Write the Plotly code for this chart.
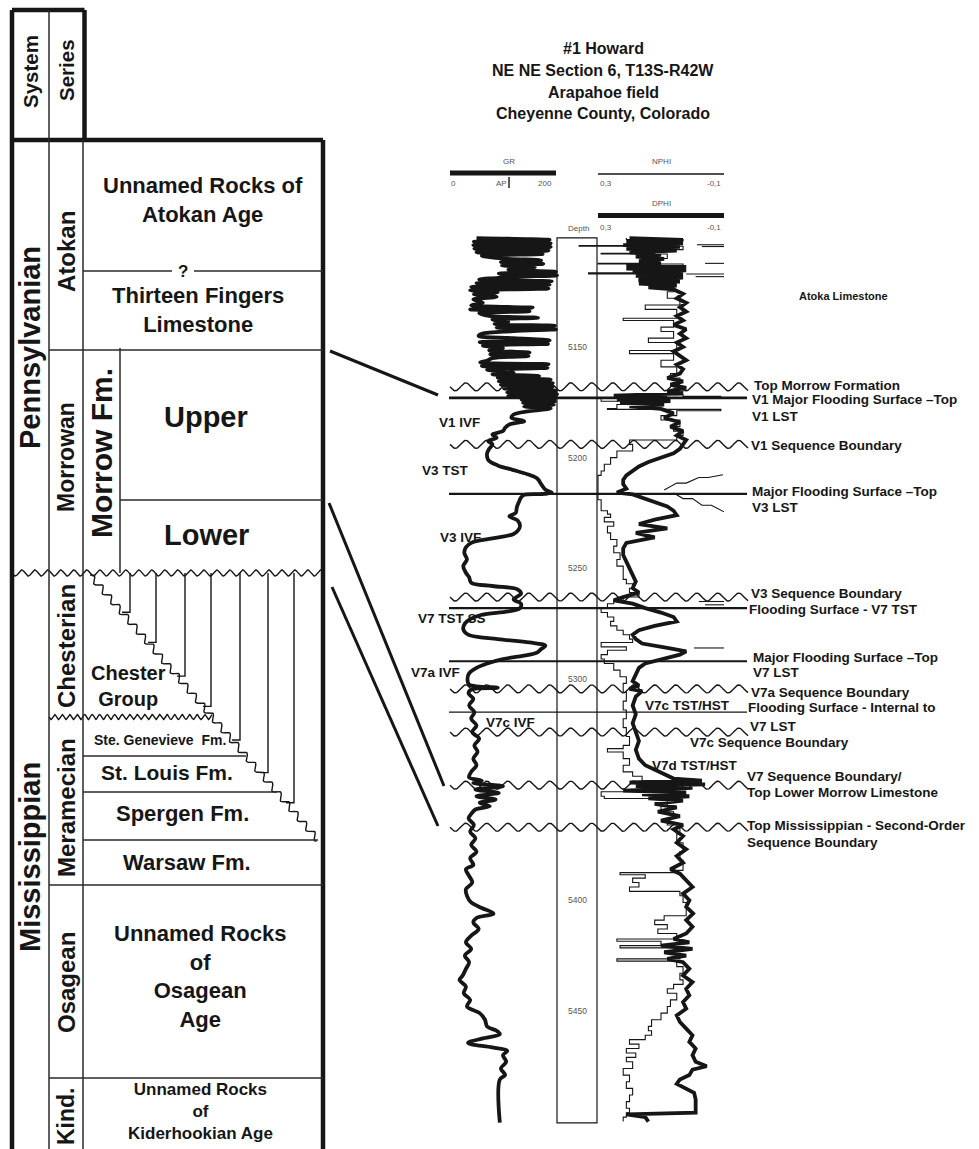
import numpy as np
import plotly.graph_objects as go

W, H = 979, 1149
FONT = "Liberation Sans, Arial, sans-serif"
INK = "#161616"
GREY = "#555555"

# ---------------- well log data: #1 Howard ----------------
gr_depth = [5100.8, 5101.6, 5102.4, 5103.2, 5104.0, 5104.8, 5105.6, 5106.4, 5107.2, 5108.0, 5108.8,
            5110.0, 5110.8, 5111.6, 5112.4, 5113.2, 5114.0, 5115.0, 5116.0, 5116.8, 5117.6, 5118.4,
            5119.5, 5120.3, 5121.1, 5121.9, 5122.8, 5123.6, 5124.4, 5125.3, 5126.2, 5127.3, 5128.5,
            5130.0, 5131.2, 5132.2, 5133.0, 5133.8, 5134.8, 5136.0, 5136.8, 5137.6, 5138.6, 5139.6,
            5140.4, 5141.2, 5142.0, 5142.8, 5144.0, 5145.0, 5146.0, 5147.0, 5147.8, 5148.6, 5149.4,
            5150.5, 5151.5, 5152.5, 5153.3, 5154.1, 5155.0, 5156.2, 5157.0, 5157.8, 5158.6, 5159.4,
            5160.3, 5161.5, 5162.3, 5163.1, 5163.9, 5164.7, 5165.5, 5166.3, 5167.1, 5167.9, 5168.7,
            5169.7, 5170.5, 5171.3, 5172.1, 5172.9, 5173.7, 5174.5, 5175.3, 5176.1, 5176.9, 5177.7,
            5179.0, 5180.5, 5182.0, 5183.5, 5185.0, 5186.5, 5188.0, 5189.5, 5191.0, 5192.5, 5194.0,
            5196.0, 5198.0, 5201.0, 5203.5, 5205.5, 5207.5, 5209.5, 5212.0, 5214.5, 5215.8, 5216.4,
            5216.8, 5218.0, 5220.0, 5222.5, 5225.0, 5226.5, 5228.5, 5231.0, 5233.0, 5234.5, 5236.5,
            5238.5, 5240.5, 5243.0, 5246.0, 5249.0, 5252.0, 5254.0, 5256.5, 5258.0, 5259.6, 5261.5,
            5264.0, 5266.0, 5268.0, 5269.5, 5271.0, 5273.0, 5275.0, 5277.5, 5280.0, 5282.0, 5283.5,
            5285.0, 5286.5, 5288.0, 5289.5, 5291.0, 5293.0, 5295.0, 5297.5, 5300.0, 5302.5, 5304.0,
            5304.8, 5306.5, 5309.0, 5312.0, 5315.0, 5318.0, 5321.0, 5324.0, 5327.0, 5330.0, 5333.0,
            5336.0, 5339.0, 5342.0, 5344.5, 5346.0, 5347.0, 5348.5, 5350.0, 5351.5, 5353.0, 5354.5,
            5356.0, 5357.5, 5359.0, 5361.0, 5363.0, 5366.0, 5369.0, 5372.0, 5375.0, 5378.0, 5381.0,
            5384.0, 5386.0, 5389.0, 5392.0, 5395.0, 5398.0, 5401.0, 5403.5, 5406.0, 5408.0, 5410.0,
            5413.0, 5416.0, 5419.0, 5422.0, 5425.0, 5428.0, 5431.0, 5434.0, 5436.0, 5439.0, 5442.0,
            5445.0, 5448.0, 5451.0, 5454.0, 5457.0, 5459.0, 5460.5, 5462.5, 5464.5, 5466.5, 5468.0,
            5470.0, 5473.0, 5476.0, 5479.0, 5481.0, 5500.5]
gr_api = [50, 188, 45, 190, 44, 190, 46, 186, 50, 175, 60,
          100, 172, 96, 176, 98, 160, 110, 200, 92, 202, 120,
          55, 192, 50, 188, 40, 186, 38, 90, 45, 88, 44,
          62, 40, 156, 38, 150, 55, 76, 166, 80, 110, 84,
          198, 88, 200, 120, 60, 54, 120, 188, 56, 185, 62,
          100, 74, 150, 76, 148, 80, 70, 57, 186, 60, 184,
          70, 120, 80, 168, 90, 190, 92, 194, 96, 194, 102,
          200, 108, 202, 110, 200, 135, 198, 138, 196, 140, 190,
          150, 120, 116, 140, 112, 104, 100, 80, 88, 72, 80,
          74, 70, 72, 90, 118, 146, 165, 172, 180, 192, 178,
          140, 134, 130, 126, 124, 112, 128, 132, 128, 120, 80,
          40, 30, 27, 32, 25, 30, 36, 40, 80, 128, 134,
          120, 134, 132, 110, 60, 38, 28, 25, 34, 90, 150,
          180, 172, 165, 140, 100, 70, 50, 36, 33, 36, 90,
          40, 35, 44, 36, 46, 40, 50, 42, 55, 46, 52,
          44, 50, 40, 36, 60, 44, 100, 48, 92, 50, 86,
          56, 75, 48, 40, 35, 45, 38, 48, 40, 50, 38,
          44, 30, 36, 42, 30, 32, 40, 60, 82, 50, 44,
          54, 40, 30, 40, 28, 36, 30, 24, 18, 30, 26,
          38, 32, 56, 66, 70, 88, 94, 60, 34, 80, 108,
          100, 106, 96, 104, 94, 94]

dphi_depth = [5100.8, 5101.6, 5102.4, 5103.2, 5104.0, 5104.8, 5105.6, 5106.4, 5107.2, 5108.2, 5109.2,
              5110.2, 5111.2, 5112.2, 5113.0, 5113.8, 5114.6, 5115.4, 5116.2, 5117.0, 5117.8, 5118.6,
              5119.5, 5120.4, 5121.3, 5122.2, 5123.1, 5124.0, 5126.0, 5128.0, 5130.0, 5132.0, 5134.0,
              5136.0, 5138.0, 5140.0, 5142.0, 5144.0, 5146.0, 5148.0, 5150.0, 5152.0, 5154.0, 5156.0,
              5158.0, 5160.0, 5162.0, 5164.0, 5165.5, 5167.0, 5168.5, 5170.0, 5171.0, 5172.0, 5172.8,
              5173.6, 5174.4, 5175.2, 5176.0, 5176.8, 5178.0, 5180.0, 5182.0, 5184.0, 5186.0, 5188.0,
              5190.0, 5192.0, 5194.0, 5196.0, 5198.0, 5200.0, 5202.0, 5204.0, 5206.0, 5208.0, 5210.0,
              5212.0, 5214.0, 5215.8, 5216.6, 5218.0, 5220.0, 5222.0, 5224.0, 5226.0, 5228.0, 5230.0,
              5232.0, 5234.0, 5236.0, 5238.5, 5241.0, 5244.0, 5247.0, 5250.0, 5253.0, 5256.0, 5259.0,
              5261.0, 5263.0, 5264.5, 5266.0, 5268.0, 5270.0, 5272.0, 5274.0, 5276.0, 5278.0, 5280.0,
              5282.0, 5284.0, 5286.0, 5287.5, 5289.0, 5291.0, 5293.0, 5295.0, 5298.0, 5301.0, 5303.0,
              5304.5, 5305.5, 5308.0, 5312.0, 5316.0, 5320.0, 5324.0, 5328.0, 5332.0, 5336.0, 5339.0,
              5341.0, 5343.0, 5345.0, 5346.0, 5346.8, 5347.6, 5348.4, 5349.2, 5350.5, 5351.3, 5352.1,
              5353.0, 5354.0, 5355.0, 5356.5, 5358.0, 5360.0, 5362.0, 5364.0, 5366.0, 5368.0, 5371.0,
              5374.0, 5377.0, 5380.0, 5383.0, 5386.0, 5388.0, 5391.0, 5394.0, 5397.0, 5400.0, 5403.0,
              5406.0, 5409.0, 5412.0, 5415.0, 5417.5, 5419.0, 5420.5, 5422.0, 5423.5, 5425.0, 5426.5,
              5428.0, 5431.0, 5434.0, 5437.0, 5440.0, 5443.0, 5446.0, 5449.0, 5452.0, 5455.0, 5458.0,
              5461.0, 5464.0, 5467.0, 5470.0, 5473.0, 5475.0, 5476.5, 5479.0, 5481.0, 5483.0, 5485.0,
              5487.0, 5490.0, 5494.0, 5496.0, 5496.8, 5498.0, 5500.0]
dphi = [0.20, 0.03, 0.21, 0.03, 0.22, 0.04, 0.21, 0.05, 0.20, 0.10, 0.18,
        0.09, 0.17, 0.10, 0.21, 0.02, 0.21, 0.02, 0.19, 0.03, 0.18, 0.03,
        0.17, 0.04, 0.17, 0.05, 0.14, 0.06, 0.03, 0.05, 0.02, 0.04, 0.02,
        0.05, 0.03, 0.06, 0.02, 0.04, 0.02, 0.05, 0.03, 0.06, 0.04, 0.02,
        0.05, 0.03, 0.04, 0.08, 0.03, 0.07, 0.02, 0.08, 0.03, 0.25, 0.08,
        0.24, 0.07, 0.23, 0.09, 0.20, 0.10, 0.06, 0.09, 0.04, 0.07, 0.03,
        0.05, 0.02, 0.03, 0.04, 0.06, 0.10, 0.14, 0.17, 0.19, 0.21, 0.22,
        0.22, 0.21, 0.24, 0.19, 0.16, 0.12, 0.08, 0.06, 0.05, 0.12, 0.17,
        0.08, 0.18, 0.12, 0.21, 0.22, 0.22, 0.21, 0.20, 0.19, 0.18, 0.19,
        0.17, 0.22, 0.25, 0.19, 0.15, 0.10, 0.06, 0.05, 0.12, 0.17, 0.19,
        0.18, 0.16, 0.08, 0.02, 0.04, 0.10, 0.15, 0.17, 0.18, 0.19, 0.17,
        0.20, 0.16, 0.18, 0.19, 0.18, 0.19, 0.18, 0.17, 0.18, 0.17, 0.15,
        0.12, 0.09, 0.06, -0.03, 0.20, -0.04, 0.18, 0.00, 0.22, 0.02, 0.16,
        0.01, 0.14, 0.03, 0.12, 0.05, 0.11, 0.04, 0.10, 0.03, 0.06, 0.03,
        0.05, 0.02, 0.05, 0.03, 0.07, 0.04, 0.02, 0.00, 0.03, 0.01, 0.02,
        -0.002, 0.02, 0.00, 0.02, 0.06, 0.01, 0.10, 0.00, 0.09, 0.02, 0.08,
        0.03, 0.01, 0.03, 0.00, 0.02, 0.01, 0.03, 0.02, 0.05, 0.04, 0.02,
        0.00, 0.01, -0.01, 0.00, -0.01, -0.045, 0.00, 0.01, 0.04, 0.05, 0.02,
        -0.005, -0.01, -0.01, -0.01, 0.21, 0.15, 0.14]

nphi_depth = [5100.8, 5101.4, 5102.0, 5104.2, 5104.5, 5106.0, 5107.7, 5108.0, 5110.0, 5112.2, 5112.5,
              5114.0, 5116.5, 5117.0, 5119.0, 5120.5, 5122.0, 5125.0, 5128.0, 5131.0, 5133.0, 5137.0,
              5138.0, 5141.0, 5143.0, 5146.0, 5148.0, 5151.6, 5153.0, 5156.0, 5159.0, 5162.0, 5164.0,
              5166.0, 5168.0, 5170.0, 5171.5, 5172.3, 5172.8, 5174.5, 5176.0, 5177.8, 5178.2, 5178.8,
              5181.0, 5183.0, 5186.0, 5188.0, 5190.0, 5192.0, 5194.0, 5197.0, 5200.0, 5203.0, 5206.0,
              5208.0, 5212.0, 5216.0, 5219.0, 5222.0, 5224.0, 5225.5, 5227.0, 5229.0, 5231.0, 5234.0,
              5237.0, 5240.0, 5243.0, 5246.0, 5249.0, 5252.0, 5255.0, 5257.0, 5259.0, 5261.0, 5263.0,
              5264.5, 5266.0, 5268.0, 5270.0, 5272.0, 5274.0, 5276.0, 5278.0, 5280.0, 5282.0, 5283.5,
              5285.0, 5285.5, 5287.0, 5289.0, 5291.0, 5293.0, 5296.0, 5299.0, 5302.0, 5306.0, 5310.0,
              5314.0, 5318.0, 5322.0, 5326.0, 5330.0, 5331.5, 5333.0, 5336.0, 5339.0, 5342.0, 5344.0,
              5346.0, 5348.0, 5351.0, 5353.0, 5354.0, 5357.0, 5360.0, 5363.0, 5366.0, 5370.0, 5374.0,
              5378.0, 5382.0, 5386.5, 5387.5, 5388.5, 5390.0, 5392.0, 5394.0, 5396.0, 5398.0, 5401.0,
              5405.0, 5407.0, 5409.0, 5411.0, 5413.0, 5415.0, 5417.5, 5418.5, 5420.5, 5421.5, 5424.0,
              5426.5, 5427.5, 5430.0, 5433.0, 5436.0, 5438.0, 5440.0, 5442.0, 5445.0, 5448.0, 5451.0,
              5454.0, 5457.0, 5459.0, 5461.0, 5463.0, 5465.0, 5467.0, 5469.0, 5471.0, 5473.0, 5476.0,
              5479.0, 5482.0, 5485.0, 5488.0, 5491.0, 5494.0, 5496.0, 5498.0, 5500.0]
nphi = [0.21, 0.03, 0.10, 0.36, 0.03, 0.12, 0.29, 0.08, 0.15, 0.30, 0.03,
        0.13, 0.33, 0.12, 0.17, 0.10, 0.06, 0.08, 0.04, 0.15, 0.05, 0.22,
        0.06, 0.10, 0.06, 0.14, 0.05, 0.20, 0.06, 0.10, 0.05, 0.07, 0.04,
        0.06, 0.03, 0.06, 0.03, -0.09, 0.29, 0.15, 0.24, 0.27, -0.09, 0.05,
        0.10, 0.04, 0.06, 0.03, 0.05, 0.20, 0.19, 0.24, 0.26, 0.28, 0.29,
        0.30, 0.30, 0.30, 0.29, 0.29, 0.27, 0.26, 0.28, 0.25, 0.27, 0.26,
        0.24, 0.25, 0.23, 0.24, 0.22, 0.22, 0.21, 0.19, 0.20, 0.17, 0.22,
        0.25, 0.27, 0.29, 0.27, 0.25, 0.26, 0.24, 0.22, 0.20, 0.19, 0.29,
        0.29, 0.21, 0.27, 0.29, 0.28, 0.25, 0.23, 0.21, 0.22, 0.21, 0.22,
        0.21, 0.22, 0.21, 0.20, 0.22, 0.27, 0.22, 0.20, 0.22, 0.19, 0.16,
        0.13, 0.10, 0.29, 0.28, 0.08, 0.10, 0.06, 0.08, 0.04, 0.05, 0.03,
        0.04, 0.03, 0.05, 0.23, 0.15, 0.19, 0.17, 0.20, 0.04, 0.03, 0.02,
        0.02, 0.09, 0.12, 0.08, 0.11, 0.05, 0.24, 0.10, 0.23, 0.06, 0.04,
        0.24, 0.05, 0.03, 0.04, 0.03, 0.06, 0.08, 0.05, 0.07, 0.08, 0.10,
        0.13, 0.14, 0.13, 0.15, 0.20, 0.17, 0.21, 0.18, 0.21, 0.19, 0.22,
        0.20, 0.21, 0.19, 0.20, 0.21, 0.20, 0.21, 0.22, 0.22]

# neutron backup (wrapped) trace on the right edge of the porosity track
nphi_bk_depth = [5103.8, 5103.8, None, 5104.6, 5104.6, None, 5112.2, 5112.2, None,
                 5117.0, 5117.0, None, 5118.2, 5118.2, None,
                 5207.7, 5209.0, 5209.0, 5211.5, 5211.5, 5214.6, None,
                 5216.0, 5218.5, 5218.5, 5221.5, 5221.5, 5224.5, None,
                 5265.0, 5265.0, None, 5266.5, 5266.5, None, 5286.0, 5286.0]
nphi_bk = [-0.014, -0.10, None, -0.03, -0.10, None, -0.04, -0.10, None,
           0.02, -0.10, None, -0.01, -0.10, None,
           -0.097, -0.05, -0.02, 0.02, 0.05, 0.09, None,
           0.06, 0.03, 0.00, -0.03, -0.06, -0.10, None,
           -0.02, -0.10, None, -0.04, -0.10, None, -0.005, -0.10]

depth_ticks = [5150, 5200, 5250, 5300, 5400, 5450]
track_top, track_base = 5100.7, 5500.6

# stratigraphic surfaces picked on the log (depth ft, style)
surf_depth = [5168.0, 5173.0, 5194.0, 5216.4, 5263.0, 5268.0, 5292.0, 5304.5, 5315.0, 5324.0, 5348.0, 5367.0]
surf_kind = ["wavy", "line", "wavy", "line", "wavy", "line", "line", "wavy", "line", "wavy", "wavy", "wavy"]
surf_width = [1.4, 2.6, 1.4, 2.2, 1.4, 2.2, 2.2, 1.4, 1.2, 1.4, 1.4, 1.4]

right_labels = ["Atoka Limestone", "Top Morrow Formation", "V1 Major Flooding Surface \u2013Top", "V1 LST",
                "V1 Sequence Boundary", "Major Flooding Surface \u2013Top", "V3 LST",
                "V3 Sequence Boundary", "Flooding Surface - V7 TST", "Major Flooding Surface \u2013Top",
                "V7 LST", "V7a Sequence Boundary", "Flooding Surface - Internal to", "V7 LST",
                "V7c TST/HST", "V7c Sequence Boundary", "V7d TST/HST", "V7 Sequence Boundary/",
                "Top Lower Morrow Limestone", "Top Mississippian - Second-Order", "Sequence Boundary"]
right_label_depth = [5127.0, 5167.2, 5173.9, 5181.2, 5194.7, 5215.5, 5222.3, 5261.2, 5268.8, 5290.5,
                     5297.3, 5305.9, 5313.1, 5321.7, 5311.8, 5328.9, 5338.9, 5344.3, 5351.5, 5366.4, 5374.1]
left_labels = ["V1 IVF", "V3 TST", "V3 IVF", "V7 TST SS", "V7a IVF", "V7c IVF"]
left_label_depth = [5183.9, 5205.6, 5235.9, 5272.5, 5297.3, 5319.5]

title_lines = ["#1 Howard", "NE NE Section 6, T13S-R42W", "Arapahoe field", "Cheyenne County, Colorado"]

# ---------------- stratigraphic column ----------------
col_header = ["System", "Series"]
systems = ["Pennsylvanian", "Mississippian"]
series = ["Atokan", "Morrowan", "Chesterian", "Meramecian", "Osagean", "Kind."]
units = ["Unnamed Rocks of<br>Atokan Age", "Thirteen Fingers<br>Limestone", "Upper", "Lower",
         "Chester<br>Group", "Ste. Genevieve  Fm.", "St. Louis Fm.", "Spergen Fm.", "Warsaw Fm.",
         "Unnamed Rocks<br>of<br>Osagean<br>Age", "Unnamed Rocks<br>of<br>Kiderhookian Age"]

# ---------------- scales (log -> page pixels) ----------------
DEPTH_REF, DEPTH_REF_PX, PX_PER_FT = 5150.0, 347.0, 2.213
GR_X0, GR_PX = 450.0, 0.53            # pixel of 0 API, pixels per API
PHI_X0, PHI_PX = 598.0, 315.0         # pixel of 0.3 v/v, pixels per unit

fig = go.Figure()


def line(xs, ys, width, xa="x", ya="y", color=INK, shape="linear"):
    fig.add_trace(go.Scatter(x=xs, y=ys, mode="lines", xaxis=xa, yaxis=ya, hoverinfo="skip",
                             showlegend=False, line=dict(color=color, width=width, shape=shape)))


def text(x, y, s, size, xa="x", ya="y", angle=0, anchor="center", bold=True, color=INK):
    fig.add_annotation(x=x, y=y, xref=xa, yref=ya, text=("<b>%s</b>" % s) if bold else s,
                       showarrow=False, textangle=angle, xanchor=anchor, yanchor="middle",
                       font=dict(family=FONT, size=size, color=color))


def wave(x0, x1, amp, wl):
    xs = np.linspace(x0, x1, int((x1 - x0) * 2) + 2)
    return xs, amp * np.sin(2 * np.pi * (xs - x0) / wl)


# ---- title ----
for s, yy in zip(title_lines, [48, 70, 92, 113]):
    text(603, yy, s, 16)

# ---- log headers ----
fig.add_shape(type="line", xref="x2", yref="y", x0=0, x1=200, y0=173, y1=173, line=dict(color=INK, width=5))
fig.add_shape(type="line", xref="x", yref="y", x0=509, x1=509, y0=177, y1=188, line=dict(color=INK, width=1.4))
fig.add_shape(type="line", xref="x3", yref="y", x0=0.3, x1=-0.1, y0=174, y1=174, line=dict(color=INK, width=1.4))
fig.add_shape(type="line", xref="x3", yref="y", x0=0.3, x1=-0.1, y0=215.5, y1=215.5, line=dict(color=INK, width=5))
for s, xx, yy in [("GR", 509, 161), ("NPHI", 661, 161), ("DPHI", 661, 203), ("0", 453, 183), ("AP", 501, 183),
                  ("200", 545, 183), ("0,3", 606, 183), ("-0,1", 714, 183), ("Depth", 578, 228),
                  ("0,3", 606, 227), ("-0,1", 714, 227)]:
    text(xx, yy, s, 8, bold=False, color=GREY)

# ---- depth track ----
fig.add_shape(type="rect", xref="x", yref="y2", x0=557, x1=597, y0=track_top, y1=track_base,
              line=dict(color=INK, width=1.2))
for d in depth_ticks:
    text(577, d, str(d), 8.5, ya="y2", bold=False, color=GREY)

# ---- surfaces ----
for d, kind, lw in zip(surf_depth, surf_kind, surf_width):
    if kind == "wavy":
        xs, off = wave(450, 748, 4.0, 21)
        line(xs, d + off / PX_PER_FT, lw, xa="x", ya="y2")
    else:
        line([449, 747], [d, d], lw, xa="x", ya="y2")

# ---- log curves ----
line(gr_api, gr_depth, 3.8, xa="x2", ya="y2", shape="spline")
line(nphi, nphi_depth, 1.1, xa="x3", ya="y2", shape="vh")
line(nphi_bk, nphi_bk_depth, 1.1, xa="x3", ya="y2")
line(dphi, dphi_depth, 3.8, xa="x3", ya="y2")

# ---- log labels ----
right_x = [797, 752, 750, 750, 749, 750, 750, 749, 747, 751, 751, 749, 746, 748, 643, 688, 650, 745, 745, 745, 745]
for s, d, xx in zip(right_labels, right_label_depth, right_x):
    text(xx, d, s, 13.5 if s != "Atoka Limestone" else 11, ya="y2", anchor="left")
left_x = [459, 445, 460, 452, 435, 510]
for s, d, xx in zip(left_labels, left_label_depth, left_x):
    text(xx, d, s, 13.5, ya="y2")

# ---- correlation lines column -> log ----
for x0, y0, x1, y1 in [(330, 351, 438, 395), (329, 503, 444, 786), (332, 587, 438, 826)]:
    fig.add_shape(type="line", xref="x", yref="y", x0=x0, y0=y0, x1=x1, y1=y1, line=dict(color=INK, width=3))

# ---- stratigraphic column frame ----
L, R, TOP, HTOP, SYS, SER, FM = 12, 323, 140, 10, 49, 83, 120
thick = dict(color=INK, width=4.5)
thin = dict(color="#2a2a2a", width=1.5)
for x0, y0, x1, y1 in [(L, HTOP, L, H + 5), (L, HTOP, 84.5, HTOP), (84.5, HTOP, 84.5, TOP),
                       (L, TOP, R, TOP), (R, TOP, R, H + 5)]:
    fig.add_shape(type="line", x0=x0, y0=y0, x1=x1, y1=y1, xref="x", yref="y", line=thick)
for x0, y0, x1, y1 in [(SYS, HTOP, SYS, H + 5), (SER, TOP, SER, H + 5), (FM, 348, FM, 573),
                       (SER, 271, 172, 271), (194, 271, R, 271), (SYS, 350, R, 350), (FM, 500, R, 500),
                       (SER, 756, 246, 756), (SER, 792, 277, 792), (SER, 840, 318, 840),
                       (SYS, 885, R, 885), (SYS, 1078, R, 1078)]:
    fig.add_shape(type="line", x0=x0, y0=y0, x1=x1, y1=y1, xref="x", yref="y", line=thin)

# unconformities
xs, off = wave(L, R, 3, 13)
line(xs, 573 + off, 1.4)
xs, off = wave(SYS, 212, 2.5, 7.5)
line(xs, 717 + off, 1.4)

# diachronous Chester staircase
sx0, sy0, sx1, sy1 = 90, 575, 318, 840
t = np.linspace(0, 1, 400)
length = np.hypot(sx1 - sx0, sy1 - sy0)
nx, ny = (sy1 - sy0) / length, -(sx1 - sx0) / length
wig = 3 * np.sin(2 * np.pi * t * length / 13)
line(sx0 + t * (sx1 - sx0) + nx * wig, sy0 + t * (sy1 - sy0) + ny * wig, 1.4)
slope = (sy1 - sy0) / (sx1 - sx0)
for xv in [130, 156, 185, 211, 240, 268, 294]:
    yb = sy0 + (xv - 8 - sx0) * slope
    line([xv, xv, xv - 8], [573, yb, yb], 1.4)

# ---- column text ----
for s, xx, yy in zip(col_header, [30, 66], [72, 70]):
    text(xx, yy, s, 20.5, angle=-90)
for s, yy in zip(systems, [348, 857]):
    text(30, yy, s, 29, angle=-90)
for s, yy, sz in zip(series, [252, 457, 646, 808, 983, 1116], [24, 23, 24, 24, 24, 23]):
    text(66, yy, s, sz, angle=-90)
text(101, 453, "Morrow Fm.", 30, angle=-90)
text(183, 271, "?", 17)
unit_pos = [(203, 200, 22), (198, 310, 22), (206, 417, 29), (206, 535, 29), (128, 686, 20),
            (160, 740, 14), (167, 772, 21), (182, 813, 22), (187, 862, 22), (200, 976, 22), (200, 1111, 17)]
for s, (xx, yy, sz) in zip(units, unit_pos):
    text(xx, yy, s, sz)

# ---- axes: one page-pixel frame plus overlaid log scales ----
d_bottom = DEPTH_REF + (H - DEPTH_REF_PX) / PX_PER_FT
d_top = DEPTH_REF - DEPTH_REF_PX / PX_PER_FT
fig.update_layout(
    width=W, height=H, margin=dict(l=0, r=0, t=0, b=0),
    paper_bgcolor="white", plot_bgcolor="white", showlegend=False,
    xaxis=dict(range=[0, W], domain=[0, 1], visible=False, fixedrange=True),
    yaxis=dict(range=[H, 0], domain=[0, 1], visible=False, fixedrange=True),
    xaxis2=dict(range=[-GR_X0 / GR_PX, (W - GR_X0) / GR_PX], overlaying="x", visible=False),
    xaxis3=dict(range=[0.3 + PHI_X0 / PHI_PX, 0.3 - (W - PHI_X0) / PHI_PX], overlaying="x", visible=False),
    yaxis2=dict(range=[d_bottom, d_top], overlaying="y", visible=False),
)

fig.write_html("out.html", config={"displayModeBar": False, "staticPlot": True},
               post_script="document.body.style.margin='0';document.body.style.overflow='hidden';")
